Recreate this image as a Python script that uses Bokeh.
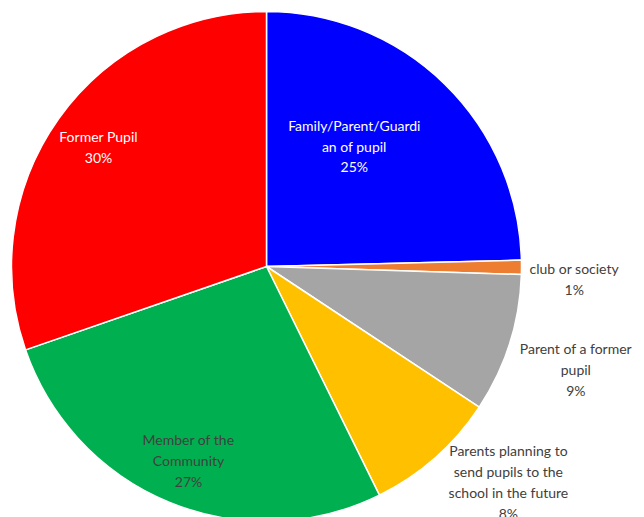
import math
from bokeh.plotting import figure
from bokeh.models import Range1d, ColumnDataSource
from bokeh.core.properties import value
from bokeh.embed import file_html
from bokeh.resources import INLINE

# ---- data ----
categories = ["Family/Parent/Guardian of pupil", "club or society", "Parent of a former pupil",
              "Parents planning to send pupils to the school in the future",
              "Member of the Community", "Former Pupil"]
values = [24.6, 0.9, 8.8, 8.4, 27.0, 30.3]
label_texts = ["Family/Parent/Guardi\nan of pupil\n25%", "club or society\n1%",
               "Parent of a former\npupil\n9%",
               "Parents planning to\nsend pupils to the\nschool in the future\n8%",
               "Member of the\nCommunity\n27%", "Former Pupil\n30%"]
colors = ["#0000FF", "#ED7D31", "#A5A5A5", "#FFC000", "#00B050", "#FF0000"]
text_colors = ["#FFFFFF", "#404040", "#404040", "#404040", "#404040", "#FFFFFF"]

# label placement (polar, clockwise degrees from top, radius in px)
label_angle = [36.1, 92.3, 108.4, 131.7, 201.9, 305.4]
label_radius = [149, 308, 326, 324, 209, 206]

CX, CY, R = 266, -266, 255
W, H = 644, 517

total = sum(values)
starts, ends = [], []
cum = 0.0
for v in values:
    starts.append(math.pi / 2 - cum / total * 2 * math.pi)
    cum += v
    ends.append(math.pi / 2 - cum / total * 2 * math.pi)

src = ColumnDataSource(dict(cat=categories, val=values, start=starts, end=ends, color=colors))

p = figure(width=W, height=H, output_backend="svg", toolbar_location=None,
           x_range=Range1d(0, W), y_range=Range1d(-H, 0),
           min_border=0, outline_line_color=None)
p.axis.visible = False
p.grid.visible = False
p.background_fill_color = "white"

p.wedge(x=CX, y=CY, radius=R, radius_units="data", start_angle="start", end_angle="end",
        direction="clock", fill_color="color", line_color="white", line_width=1.5, source=src)

lx = [CX + r * math.sin(math.radians(a)) for a, r in zip(label_angle, label_radius)]
ly = [CY + r * math.cos(math.radians(a)) for a, r in zip(label_angle, label_radius)]
lsrc = ColumnDataSource(dict(x=lx, y=ly, t=label_texts, c=text_colors))
p.text(x="x", y="y", text="t", text_color="c", source=lsrc, text_align="center",
       text_baseline="middle", text_font=value("Lato"), text_font_size="14px",
       text_line_height=1.22)

open("out.html", "w").write(file_html(p, INLINE))
